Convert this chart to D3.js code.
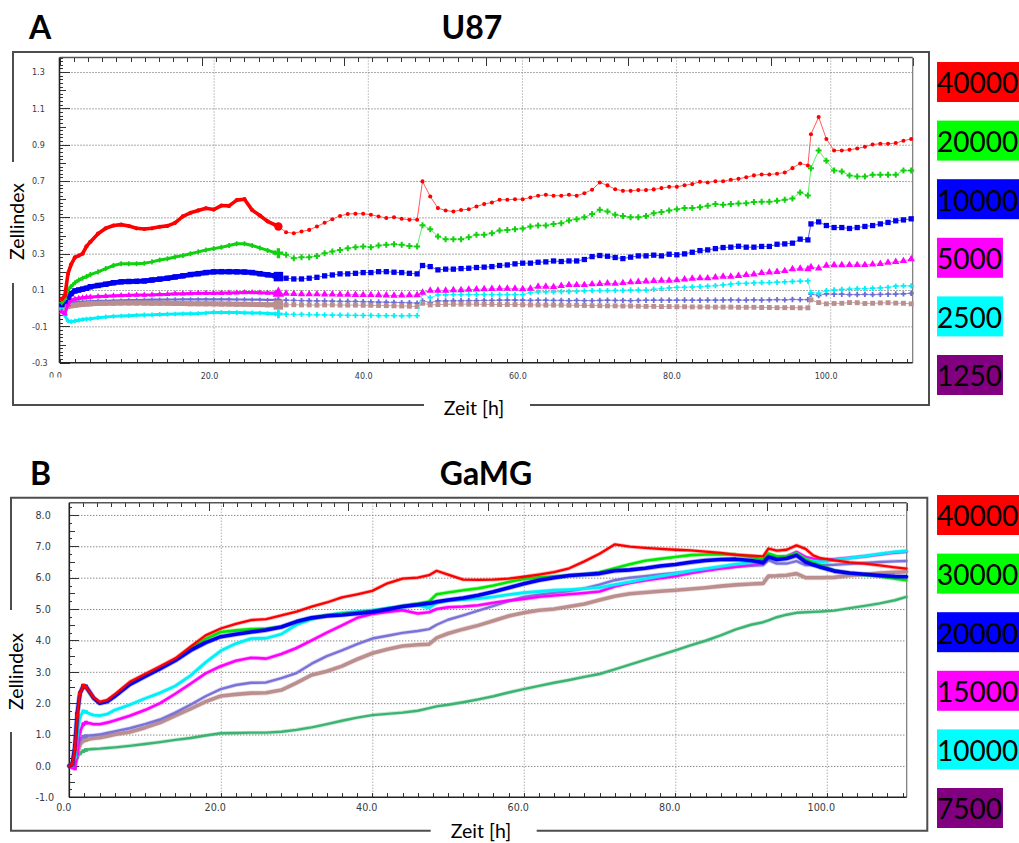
<!DOCTYPE html>
<html>
<head>
<meta charset="utf-8">
<script src="https://cdn.jsdelivr.net/npm/d3@7"></script>
<style>
  html, body { margin: 0; padding: 0; background: #fff; }
  svg { display: block; }
</style>
</head>
<body>
<svg id="fig" width="1019" height="843"></svg>
<script>
// ---------------- U87 (panel A) ----------------
// Sampling times [h]: dense recording until 28.4 h, hourly afterwards
const u87Time = [
  0.3, 0.7, 1.1, 1.5, 2, 2.5, 3, 3.5, 4, 5, 6, 7, 8, 9, 10, 11, 12, 13, 14, 15, 16, 17, 18, 19, 20, 21, 22, 23, 24, 25, 26, 27, 28,
  28.4, 29.4, 30.4, 31.4, 32.4, 33.4, 34.4, 35.4, 36.4, 37.4, 38.4, 39.4, 40.4, 41.4, 42.4, 43.4, 44.4, 45.4, 46.4,
  47.1, 48.1, 49.1, 50.1, 51.1, 52.1, 53.1, 54.1, 55.1, 56.1, 57.1, 58.1, 59.1, 60.1, 61.1, 62.1, 63.1, 64.1, 65.1, 66.1,
  67.1, 68.1, 69.1, 70.1, 71.1, 72.1, 73.1, 74.1, 75.1, 76.1, 77.1, 78.1, 79.1, 80.1, 81.1, 82.1, 83.1, 84.1, 85.1, 86.1,
  87.1, 88.1, 89.1, 90.1, 91.1, 92.1, 93.1, 94.1, 95.1, 96.1, 97.1,
  97.5, 98.5, 99.5, 100.5, 101.5, 102.5, 103.5, 104.5, 105.5, 106.5, 107.5, 108.5, 109.5, 110.5
];
const u87DenseEnd = 28.4;

const u87_40000 = [
  0.05, 0.07, 0.19, 0.24, 0.28, 0.29, 0.30, 0.34, 0.365, 0.41, 0.44, 0.455, 0.46, 0.452, 0.44, 0.436, 0.44, 0.448, 0.453, 0.47,
  0.505, 0.525, 0.538, 0.55, 0.543, 0.565, 0.563, 0.595, 0.60, 0.54, 0.51, 0.478, 0.458,
  0.45, 0.418, 0.413, 0.422, 0.431, 0.45, 0.47, 0.49, 0.508, 0.519, 0.52, 0.52, 0.514, 0.505, 0.497, 0.501, 0.492, 0.487, 0.487,
  0.698, 0.615, 0.551, 0.538, 0.532, 0.541, 0.545, 0.56, 0.573, 0.582,
  0.597, 0.597, 0.6, 0.6, 0.609, 0.619, 0.624, 0.619, 0.619, 0.624,
  0.619, 0.633, 0.652, 0.692, 0.676, 0.655, 0.646, 0.646, 0.65, 0.65,
  0.654, 0.661, 0.668, 0.668, 0.677, 0.683, 0.696, 0.692, 0.699, 0.699,
  0.707, 0.712, 0.721, 0.731, 0.736, 0.736, 0.74, 0.747, 0.771, 0.797, 0.786,
  0.958, 1.052, 0.931, 0.868, 0.868, 0.872, 0.879, 0.889, 0.901, 0.905, 0.905, 0.909, 0.922, 0.931
];
const u87_20000 = [
  0.03, 0.05, 0.10, 0.12, 0.14, 0.155, 0.165, 0.174, 0.185, 0.20, 0.218, 0.235, 0.245, 0.245, 0.245, 0.248, 0.255, 0.265, 0.272, 0.282,
  0.29, 0.30, 0.31, 0.32, 0.328, 0.335, 0.345, 0.355, 0.355, 0.345, 0.332, 0.318, 0.305,
  0.303, 0.294, 0.275, 0.28, 0.28, 0.288, 0.303, 0.312, 0.321, 0.33, 0.336, 0.34, 0.336, 0.345, 0.349, 0.352, 0.349, 0.343, 0.34,
  0.457, 0.435, 0.395, 0.38, 0.38, 0.38, 0.391, 0.404, 0.404, 0.413,
  0.428, 0.431, 0.435, 0.439, 0.45, 0.455, 0.455, 0.464, 0.468, 0.483,
  0.49, 0.501, 0.518, 0.542, 0.532, 0.514, 0.508, 0.501, 0.501, 0.508,
  0.523, 0.53, 0.538, 0.545, 0.551, 0.551, 0.556, 0.564, 0.573, 0.569,
  0.573, 0.576, 0.578, 0.584, 0.586, 0.586, 0.591, 0.597, 0.604, 0.637, 0.62,
  0.771, 0.868, 0.811, 0.758, 0.753, 0.731, 0.725, 0.725, 0.734, 0.734, 0.734, 0.734, 0.758, 0.758
];
const u87_10000 = [
  0.02, 0.04, 0.06, 0.08, 0.095, 0.10, 0.105, 0.11, 0.118, 0.125, 0.132, 0.14, 0.145, 0.147, 0.148, 0.15, 0.155, 0.16, 0.165, 0.172,
  0.178, 0.185, 0.19, 0.196, 0.20, 0.201, 0.201, 0.20, 0.199, 0.196, 0.19, 0.184, 0.178,
  0.174, 0.165, 0.161, 0.161, 0.165, 0.17, 0.178, 0.183, 0.189, 0.189, 0.192, 0.196, 0.196, 0.201, 0.201, 0.198, 0.196, 0.192, 0.189,
  0.235, 0.229, 0.211, 0.215, 0.215, 0.218, 0.22, 0.224, 0.226, 0.229,
  0.235, 0.238, 0.244, 0.248, 0.248, 0.253, 0.255, 0.26, 0.257, 0.26,
  0.26, 0.268, 0.284, 0.29, 0.286, 0.279, 0.273, 0.281, 0.288, 0.288,
  0.292, 0.288, 0.297, 0.294, 0.299, 0.308, 0.317, 0.321, 0.328, 0.334,
  0.336, 0.341, 0.336, 0.336, 0.34, 0.34, 0.352, 0.354, 0.358, 0.38, 0.376,
  0.464, 0.475, 0.455, 0.444, 0.444, 0.439, 0.444, 0.45, 0.455, 0.464, 0.472, 0.481, 0.486, 0.492
];
const u87_5000 = [
  -0.02, -0.03, 0.02, 0.045, 0.05, 0.055, 0.058, 0.06, 0.062, 0.064, 0.066, 0.068, 0.07, 0.071, 0.072, 0.073, 0.074, 0.076, 0.077, 0.079,
  0.08, 0.081, 0.082, 0.082, 0.082, 0.083, 0.084, 0.085, 0.086, 0.086, 0.085, 0.084, 0.083,
  0.082, 0.08, 0.079, 0.078, 0.077, 0.077, 0.076, 0.076, 0.075, 0.075, 0.074, 0.073, 0.073, 0.072, 0.071, 0.07, 0.071, 0.072, 0.072,
  0.086, 0.097, 0.097, 0.097, 0.1, 0.1, 0.102, 0.104, 0.105, 0.107,
  0.108, 0.108, 0.108, 0.105, 0.108, 0.119, 0.119, 0.117, 0.123, 0.128,
  0.128, 0.128, 0.132, 0.134, 0.137, 0.135, 0.139, 0.143, 0.145, 0.148,
  0.15, 0.152, 0.152, 0.154, 0.159, 0.163, 0.165, 0.165, 0.17, 0.174,
  0.174, 0.178, 0.183, 0.187, 0.194, 0.198, 0.2, 0.205, 0.215, 0.218, 0.215,
  0.226, 0.22, 0.235, 0.237, 0.237, 0.238, 0.238, 0.238, 0.242, 0.244, 0.251, 0.255, 0.26, 0.27
];
const u87_2500 = [
  0.0, -0.04, -0.07, -0.074, -0.07, -0.066, -0.062, -0.06, -0.058, -0.052, -0.048, -0.045, -0.043, -0.041, -0.039, -0.037, -0.036, -0.034, -0.033, -0.032,
  -0.031, -0.03, -0.029, -0.027, -0.023, -0.023, -0.024, -0.024, -0.025, -0.026, -0.027, -0.029, -0.031,
  -0.032, -0.033, -0.034, -0.034, -0.035, -0.036, -0.037, -0.038, -0.038, -0.039, -0.04, -0.04, -0.04, -0.041, -0.041, -0.041, -0.042, -0.041, -0.041,
  0.082, 0.058, 0.073, 0.073, 0.075, 0.075, 0.075, 0.075, 0.075, 0.075,
  0.075, 0.075, 0.075, 0.075, 0.086, 0.09, 0.09, 0.09, 0.092, 0.092,
  0.093, 0.095, 0.097, 0.097, 0.097, 0.098, 0.098, 0.1, 0.1, 0.1,
  0.104, 0.108, 0.112, 0.115, 0.115, 0.117, 0.119, 0.121, 0.124, 0.128,
  0.132, 0.137, 0.137, 0.139, 0.141, 0.141, 0.143, 0.145, 0.147, 0.149, 0.15,
  0.086, 0.082, 0.097, 0.1, 0.103, 0.105, 0.107, 0.108, 0.11, 0.112, 0.115, 0.121, 0.123, 0.123
];
const u87_1250a = [
  0.0, 0.01, 0.025, 0.03, 0.033, 0.035, 0.036, 0.037, 0.038, 0.04, 0.041, 0.042, 0.043, 0.044, 0.045, 0.046, 0.047, 0.047, 0.048, 0.048,
  0.049, 0.049, 0.049, 0.049, 0.049, 0.049, 0.049, 0.048, 0.048, 0.047, 0.047, 0.046, 0.046,
  0.046, 0.044, 0.043, 0.042, 0.041, 0.04, 0.04, 0.039, 0.038, 0.038, 0.037, 0.036, 0.035, 0.034, 0.033, 0.032, 0.031, 0.03, 0.028,
  0.04, 0.031, 0.04, 0.04, 0.041, 0.041, 0.042, 0.042, 0.043, 0.043,
  0.044, 0.045, 0.045, 0.044, 0.043, 0.044, 0.044, 0.043, 0.043, 0.042,
  0.043, 0.042, 0.042, 0.043, 0.044, 0.043, 0.043, 0.042, 0.043, 0.044,
  0.044, 0.044, 0.044, 0.044, 0.045, 0.044, 0.044, 0.045, 0.044, 0.045,
  0.046, 0.044, 0.045, 0.046, 0.045, 0.046, 0.047, 0.046, 0.048, 0.047, 0.047,
  0.077, 0.07, 0.079, 0.077, 0.077, 0.075, 0.075, 0.076, 0.075, 0.076, 0.077, 0.078, 0.079, 0.082
];
const u87_1250b = [
  0.0, 0.005, 0.01, 0.013, 0.016, 0.019, 0.021, 0.023, 0.024, 0.026, 0.027, 0.027, 0.028, 0.028, 0.028, 0.028, 0.027, 0.027, 0.027, 0.026,
  0.026, 0.025, 0.025, 0.024, 0.024, 0.023, 0.023, 0.022, 0.022, 0.021, 0.02, 0.019, 0.019,
  0.018, 0.018, 0.019, 0.018, 0.018, 0.017, 0.018, 0.018, 0.017, 0.017, 0.017, 0.016, 0.016, 0.015, 0.014, 0.013, 0.012, 0.011, 0.009,
  0.027, 0.018, 0.02, 0.021, 0.022, 0.022, 0.022, 0.022, 0.021, 0.021,
  0.02, 0.02, 0.02, 0.019, 0.018, 0.018, 0.017, 0.017, 0.017, 0.016,
  0.016, 0.015, 0.014, 0.014, 0.013, 0.013, 0.012, 0.012, 0.011, 0.01,
  0.01, 0.009, 0.009, 0.008, 0.008, 0.007, 0.007, 0.007, 0.006, 0.006,
  0.006, 0.005, 0.005, 0.005, 0.004, 0.004, 0.003, 0.003, 0.003, 0.002, 0.002,
  0.046, 0.031, 0.024, 0.026, 0.027, 0.031, 0.03, 0.026, 0.027, 0.029, 0.03, 0.028, 0.027, 0.024
];

const u87YTicks = [-0.3, -0.1, 0.1, 0.3, 0.5, 0.7, 0.9, 1.1, 1.3];
const u87XTicks = [0, 20, 40, 60, 80, 100];
const u87Legend = ["40000", "20000", "10000", "5000", "2500", "1250"];

// ---------------- GaMG (panel B) ----------------
const gamgTime = [
  0, 0.4, 0.75, 1.05, 1.4, 1.85, 2.2, 2.7, 3.2, 4,
  5, 6, 8, 10, 12, 14, 16, 18, 20, 22,
  24, 26, 28, 30, 32, 34, 36, 38, 40, 42,
  44, 46, 47.5, 48.5, 50, 52, 54, 56, 58, 60,
  62, 64, 66, 68, 70, 72, 74, 76, 78, 80,
  82, 84, 86, 88, 90, 91.6, 92.3, 93.4, 94.7, 96,
  97.2, 98.2, 99.2, 101, 103, 105, 107, 109, 110.5
];
const gamg_40000 = [
  0, 0.05, 0.55, 1.6, 2.3, 2.56, 2.52, 2.35, 2.18, 2.04,
  2.1, 2.28, 2.68, 2.93, 3.18, 3.43, 3.8, 4.16, 4.38, 4.53,
  4.65, 4.68, 4.8, 4.92, 5.08, 5.21, 5.37, 5.47, 5.58, 5.82,
  5.97, 6.0, 6.08, 6.22, 6.1, 5.94, 5.93, 5.94, 5.97, 6.03,
  6.1, 6.18, 6.3, 6.52, 6.76, 7.06, 6.99, 6.95, 6.92, 6.89,
  6.87, 6.83, 6.79, 6.73, 6.7, 6.68, 6.93, 6.86, 6.89, 7.03,
  6.92, 6.71, 6.62, 6.55, 6.49, 6.45, 6.39, 6.33, 6.29
];
const gamg_30000 = [
  0, 0.05, 0.55, 1.6, 2.3, 2.54, 2.5, 2.33, 2.15, 2.0,
  2.06, 2.24, 2.63, 2.88, 3.13, 3.38, 3.74, 4.05, 4.27, 4.32,
  4.36, 4.38, 4.43, 4.6, 4.72, 4.8, 4.84, 4.88, 4.93, 5.0,
  5.1, 5.17, 5.24, 5.47, 5.53, 5.6, 5.66, 5.75, 5.86, 5.96,
  6.01, 6.04, 6.06, 6.1, 6.17, 6.3, 6.43, 6.54, 6.6, 6.66,
  6.72, 6.74, 6.75, 6.74, 6.67, 6.58, 6.77, 6.68, 6.68, 6.77,
  6.58, 6.48, 6.39, 6.23, 6.14, 6.09, 6.04, 5.97, 5.92
];
const gamg_20000 = [
  0, 0.05, 0.64, 1.66, 2.31, 2.55, 2.53, 2.35, 2.17, 2.0,
  2.05, 2.22, 2.6, 2.85, 3.1, 3.36, 3.68, 3.93, 4.12, 4.2,
  4.27, 4.33, 4.43, 4.6, 4.72, 4.78, 4.81, 4.86, 4.91, 4.99,
  5.08, 5.14, 5.18, 5.23, 5.29, 5.35, 5.44, 5.55, 5.68, 5.81,
  5.92, 6.0, 6.07, 6.1, 6.13, 6.22, 6.25, 6.3, 6.37, 6.42,
  6.49, 6.55, 6.58, 6.59, 6.55, 6.48, 6.66, 6.58, 6.61, 6.71,
  6.5, 6.41, 6.33, 6.21, 6.15, 6.11, 6.07, 6.04, 6.03
];
const gamg_15000 = [
  0, -0.05, -0.08, 0.4, 1.1, 1.33, 1.38, 1.36, 1.33, 1.33,
  1.38, 1.45, 1.6, 1.78, 2.0, 2.3, 2.62, 2.95, 3.18, 3.35,
  3.45, 3.42, 3.57, 3.76, 4.0, 4.25, 4.48, 4.72, 4.84, 4.91,
  4.96, 4.86, 4.9, 5.0, 5.06, 5.08, 5.12, 5.2, 5.27, 5.32,
  5.39, 5.43, 5.47, 5.51, 5.56, 5.72, 5.83, 5.91, 5.98, 6.05,
  6.14, 6.22, 6.29, 6.35, 6.42, 6.47, 6.71, 6.64, 6.68, 6.82,
  6.66, 6.6, 6.56, 6.59, 6.63, 6.68, 6.74, 6.8, 6.83
];
const gamg_10000 = [
  0, 0.02, 0.3, 1.0, 1.57, 1.74, 1.72, 1.66, 1.62, 1.6,
  1.65, 1.78, 1.95, 2.15, 2.33, 2.55, 2.88, 3.3, 3.67, 3.9,
  4.06, 4.07, 4.2, 4.5, 4.68, 4.8, 4.88, 4.92, 4.96, 5.03,
  5.07, 5.12, 5.04, 5.2, 5.27, 5.3, 5.33, 5.39, 5.46, 5.52,
  5.56, 5.6, 5.62, 5.65, 5.68, 5.78, 5.87, 5.96, 6.05, 6.13,
  6.22, 6.29, 6.36, 6.43, 6.48, 6.5, 6.68, 6.58, 6.63, 6.77,
  6.58, 6.53, 6.5, 6.56, 6.62, 6.69, 6.76, 6.82, 6.85
];
const gamg_7500a = [
  0, 0.02, 0.2, 0.55, 0.85, 0.93, 0.95, 0.97, 0.98, 1.0,
  1.05, 1.1, 1.2, 1.33, 1.48, 1.7, 1.95, 2.22, 2.45, 2.58,
  2.65, 2.66, 2.8, 2.96, 3.26, 3.5, 3.68, 3.88, 4.06, 4.15,
  4.24, 4.3, 4.36, 4.5, 4.66, 4.8, 4.95, 5.1, 5.25, 5.39,
  5.46, 5.52, 5.57, 5.66, 5.78, 5.92, 6.0, 6.05, 6.1, 6.15,
  6.2, 6.26, 6.31, 6.35, 6.38, 6.4, 6.56, 6.45, 6.45, 6.53,
  6.4, 6.4, 6.4, 6.41, 6.44, 6.47, 6.5, 6.52, 6.53
];
const gamg_7500b = [
  0, 0.0, 0.1, 0.35, 0.68, 0.8, 0.83, 0.86, 0.88, 0.9,
  0.95, 1.0, 1.08, 1.22, 1.38, 1.6, 1.82, 2.05, 2.23, 2.28,
  2.32, 2.33, 2.42, 2.65, 2.9, 3.02, 3.18, 3.4, 3.59, 3.72,
  3.82, 3.86, 3.88, 4.08, 4.22, 4.36, 4.48, 4.63, 4.78, 4.88,
  4.96, 5.0, 5.08, 5.16, 5.29, 5.41, 5.49, 5.53, 5.57, 5.6,
  5.64, 5.68, 5.73, 5.77, 5.8, 5.82, 6.05, 6.06, 6.08, 6.13,
  6.0, 6.0, 6.0, 6.01, 6.07, 6.1, 6.15, 6.17, 6.19
];
const gamg_7500c = [
  0, 0.0, 0.1, 0.28, 0.4, 0.47, 0.51, 0.53, 0.54, 0.55,
  0.57, 0.59, 0.64, 0.7, 0.76, 0.83, 0.89, 0.97, 1.04, 1.05,
  1.06, 1.06, 1.09, 1.15, 1.23, 1.33, 1.44, 1.54, 1.62, 1.66,
  1.7, 1.76, 1.84, 1.9, 1.95, 2.03, 2.12, 2.22, 2.34, 2.45,
  2.55, 2.65, 2.74, 2.84, 2.93, 3.08, 3.23, 3.38, 3.53, 3.68,
  3.84, 3.99, 4.16, 4.35, 4.5, 4.58, 4.64, 4.74, 4.82, 4.88,
  4.9, 4.91, 4.92, 4.95, 5.03, 5.1, 5.18, 5.28, 5.39
];

const gamgYTicks = [-1, 0, 1, 2, 3, 4, 5, 6, 7, 8];
const gamgXTicks = [0, 20, 40, 60, 80, 100];
const gamgLegend = ["40000", "30000", "20000", "15000", "10000", "7500"];

// ---------------- drawing ----------------
const svg = d3.select("#fig");
const fmt = d => d.toFixed(1);   // plain hyphen for negatives
const LEGEND_COLORS = ["#ff0000", "#00ff00", "#0000ff", "#ff00ff", "#00ffff", "#800080"];

// clip for the half-hidden "0.0" label of the upper time axis (label-local coordinates)
const clip = svg.append("defs").append("clipPath").attr("id", "zeroCut");
clip.append("rect").attr("x", -60).attr("y", -40).attr("width", 120).attr("height", 54.8);

function drawFrame(p) {
  const f = p.frame;
  svg.append("path")
    .attr("d", `M${f.x0},${f.gapY0}V${f.y0}H${f.x1}V${f.y1}H${f.gapX1}M${f.gapX0},${f.y1}H${f.x0}V${f.gapY1}`)
    .attr("fill", "none").attr("stroke", "#4d4d4d").attr("stroke-width", 2);
}

function drawAxes(p, x, y) {
  const g = svg.append("g");
  const w = p.right - p.left, h = p.bottom - p.top;

  // dotted grid
  g.append("g").attr("transform", `translate(${p.left},0)`)
    .call(d3.axisRight(y).tickValues(p.yTicks.filter(v => v > p.yDomain[0])).tickSize(w).tickFormat(""))
    .call(s => s.select(".domain").remove())
    .call(s => s.selectAll("line").attr("stroke", "#555").attr("stroke-dasharray", "1,2"));
  g.append("g").attr("transform", `translate(0,${p.top})`)
    .call(d3.axisBottom(x).tickValues(p.xTicks.filter(v => v > 0)).tickSize(h).tickFormat(""))
    .call(s => s.select(".domain").remove())
    .call(s => s.selectAll("line").attr("stroke", "#8a8a8a").attr("stroke-dasharray", "1,2"));

  // left axis: minor, medium and major ticks pointing inward
  const minor = d3.range(p.yDomain[0], p.yDomain[1] + 1e-9, p.yMinor).map(v => +v.toFixed(4));
  const medium = d3.range(p.yTicks[0] + p.yMedium, p.yDomain[1], 2 * p.yMedium).map(v => +v.toFixed(4));
  [[minor, 3], [medium, 6], [p.yTicks, 10]].forEach(([vals, len]) => {
    g.append("g").attr("transform", `translate(${p.left},0)`)
      .call(d3.axisRight(y).tickValues(vals).tickSize(len).tickFormat(""))
      .call(s => s.select(".domain").remove())
      .call(s => s.selectAll("line").attr("stroke", "#333").attr("shape-rendering", "crispEdges"));
  });

  // top auxiliary scale ticks
  const xTop = d3.scaleLinear().domain([0, 6]).range([p.left, p.right]);
  g.append("g").attr("transform", `translate(0,${p.top})`)
    .call(d3.axisBottom(xTop).tickValues(d3.range(0, 60.5, 1).map(v => v / 10)).tickSize(4).tickFormat(""))
    .call(s => s.select(".domain").remove())
    .call(s => s.selectAll("line").attr("stroke", "#333").attr("shape-rendering", "crispEdges"));
  g.append("g").attr("transform", `translate(0,${p.top})`)
    .call(d3.axisBottom(xTop).tickValues(d3.range(0, 7)).tickSize(8).tickFormat(""))
    .call(s => s.select(".domain").remove())
    .call(s => s.selectAll("line").attr("stroke", "#333").attr("shape-rendering", "crispEdges"));

  // bottom ticks every 2 h pointing inward
  g.append("g").attr("transform", `translate(0,${p.bottom})`)
    .call(d3.axisTop(x).tickValues(d3.range(0, p.xDomain[1], 2)).tickSize(4).tickFormat(""))
    .call(s => s.select(".domain").remove())
    .call(s => s.selectAll("line").attr("stroke", "#333").attr("shape-rendering", "crispEdges"));

  // axis lines
  g.append("line").attr("x1", p.left).attr("x2", p.right).attr("y1", p.top).attr("y2", p.top)
    .attr("stroke", "#555").attr("stroke-width", 1.5);
  g.append("line").attr("x1", p.right).attr("x2", p.right).attr("y1", p.top).attr("y2", p.bottom)
    .attr("stroke", "#777").attr("stroke-width", 1.2);
  g.append("line").attr("x1", p.left).attr("x2", p.left).attr("y1", p.top).attr("y2", p.bottom)
    .attr("stroke", "#222").attr("stroke-width", 1.6);
  g.append("line").attr("x1", p.left).attr("x2", p.right).attr("y1", p.bottom).attr("y2", p.bottom)
    .attr("stroke", "#222").attr("stroke-width", 1.6);

  // tick labels
  const yl = g.append("g").attr("transform", `translate(${p.left},0)`)
    .call(d3.axisLeft(y).tickValues(p.yTicks).tickSize(0).tickFormat(fmt))
    .call(s => s.select(".domain").remove());
  yl.selectAll("text").attr("text-anchor", "start").attr("x", p.yLabelX - p.left).attr("dy", "0.34em")
    .attr("fill", "#343a46").style("font-family", "DejaVu Sans, Verdana, sans-serif").style("font-size", p.tickFont + "px");

  const xl = g.append("g").attr("transform", `translate(0,${p.bottom})`)
    .call(d3.axisBottom(x).tickValues(p.xTicks).tickSize(0).tickFormat(fmt))
    .call(s => s.select(".domain").remove());
  xl.selectAll("text").attr("y", p.xLabelBase - p.bottom).attr("dy", 0).attr("dx", p.xLabelDx)
    .attr("fill", "#343a46").style("font-family", "DejaVu Sans, Verdana, sans-serif").style("font-size", p.tickFont + "px");
  if (p.cutZero) xl.selectAll("text").filter(d => d === 0).attr("clip-path", "url(#zeroCut)");
}

function drawTexts(p) {
  svg.append("text").attr("x", p.letterX).attr("y", p.titleBase).text(p.letter)
    .style("font-family", "Lato, sans-serif").style("font-weight", 700).style("font-size", "32px");
  svg.append("text").attr("x", p.titleX).attr("y", p.titleBase).attr("text-anchor", "middle").text(p.title)
    .style("font-family", "Lato, sans-serif").style("font-weight", 700).style("font-size", "32px");
  svg.append("text").attr("transform", `translate(${p.yTitleX},${p.yTitleY}) rotate(-90)`)
    .attr("text-anchor", "middle").text("Zellindex")
    .style("font-family", "Lato, sans-serif").style("font-size", "19.5px");
  svg.append("text").attr("x", p.xTitleX).attr("y", p.xTitleBase).attr("text-anchor", "middle").text("Zeit [h]")
    .style("font-family", "Lato, sans-serif").style("font-size", "19.5px");
}

function drawLegend(labels, top) {
  labels.forEach((lab, i) => {
    const y0 = top + i * 58.6;
    const r = svg.append("rect").attr("x", 937).attr("y", y0).attr("height", 40).attr("fill", LEGEND_COLORS[i]);
    const t = svg.append("text").attr("x", 937).attr("y", y0 + 31.3).text(lab)
      .style("font-family", "Lato, sans-serif").style("font-size", "28px").attr("fill", "#000");
    r.attr("width", t.node().getComputedTextLength() + 1);
  });
}

// ---------- panel A ----------
const pA = {
  left: 59.5, right: 912.7, top: 57.5, bottom: 362.7,
  xDomain: [0, 110.7], yDomain: [-0.3, 1.38],
  yTicks: u87YTicks, xTicks: u87XTicks, yMinor: 0.02, yMedium: 0.1,
  yLabelX: 32, xLabelBase: 379.5, xLabelDx: -4.6, tickFont: 8, cutZero: true,
  frame: { x0: 13, y0: 52, x1: 929, y1: 405, gapY0: 162, gapY1: 283, gapX0: 424, gapX1: 530 },
  letter: "A", letterX: 29, title: "U87", titleX: 472, titleBase: 39,
  yTitleX: 24, yTitleY: 221.5, xTitleX: 474, xTitleBase: 415
};
const xA = d3.scaleLinear().domain(pA.xDomain).range([pA.left, pA.right]);
const yA = d3.scaleLinear().domain(pA.yDomain).range([pA.bottom, pA.top]);
drawFrame(pA);
drawAxes(pA, xA, yA);
drawTexts(pA);
drawLegend(u87Legend, 62);

const u87Series = [
  { values: u87_1250a, color: "#6c6cd6", line: "#8c8ce0", symbol: d3.symbolCross, size: 16, band: 2.2, denseSize: 10, big: 24 },
  { values: u87_1250b, color: "#bb8f8f", line: "#c9a3a3", symbol: d3.symbolSquare, size: 24, band: 5, denseSize: 26, big: 90 },
  { values: u87_2500,  color: "#00f0f8", line: "#60f4fa", symbol: d3.symbolCross, size: 16, band: 3, denseSize: 12, big: 40 },
  { values: u87_5000,  color: "#ff00ff", line: "#ff70ff", symbol: d3.symbolTriangle, size: 24, band: 3, denseSize: 16, big: 60 },
  { values: u87_10000, color: "#0000f0", line: "#5a5af5", symbol: d3.symbolSquare, size: 28, band: 5, denseSize: 30, big: 90 },
  { values: u87_20000, color: "#10d010", line: "#5ef05e", symbol: d3.symbolCross, size: 20, band: 3, denseSize: 14, big: 55 },
  { values: u87_40000, color: "#ff0000", line: "#ff5a5a", symbol: d3.symbolCircle, size: 13, band: 3.6, denseSize: 14, big: 55 }
];

const gA = svg.append("g");
const lineA = d3.line().x(d => xA(d.t)).y(d => yA(d.v));
u87Series.forEach(s => {
  const pts = u87Time.map((t, i) => ({ t, v: s.values[i] }));
  const dense = pts.filter(d => d.t <= u87DenseEnd);
  const sparse = pts.filter(d => d.t >= u87DenseEnd);
  const g = gA.append("g");
  g.append("path").attr("d", lineA(sparse)).attr("fill", "none").attr("stroke", s.line).attr("stroke-width", 1);
  g.selectAll(null).data(sparse.slice(1)).join("path")
    .attr("transform", d => `translate(${xA(d.t)},${yA(d.v)})`)
    .attr("d", d3.symbol(s.symbol, s.size)()).attr("fill", s.color);
  g.append("path").attr("d", lineA(dense)).attr("fill", "none").attr("stroke", s.color)
    .attr("stroke-width", s.band).attr("stroke-linejoin", "round").attr("stroke-linecap", "round");
  g.selectAll(null).data(dense).join("path")
    .attr("transform", d => `translate(${xA(d.t)},${yA(d.v)})`)
    .attr("d", d3.symbol(s.symbol, s.denseSize)()).attr("fill", s.color);
  const last = dense[dense.length - 1];
  g.append("path").attr("transform", `translate(${xA(last.t)},${yA(last.v)})`)
    .attr("d", d3.symbol(s.symbol, s.big)()).attr("fill", s.color);
});

// ---------- panel B ----------
const pB = {
  left: 69.3, right: 906.7, top: 502.7, bottom: 797.3,
  xDomain: [0, 110.55], yDomain: [-1, 8.39],
  yTicks: gamgYTicks, xTicks: gamgXTicks, yMinor: 0.25, yMedium: 0.5,
  yLabelX: 35.5, xLabelBase: 811.5, xLabelDx: -6, tickFont: 9.6, cutZero: false,
  frame: { x0: 11, y0: 497.7, x1: 927.3, y1: 830.7, gapY0: 610, gapY1: 732, gapX0: 430.7, gapX1: 536.7 },
  letter: "B", letterX: 30, title: "GaMG", titleX: 486, titleBase: 485,
  yTitleX: 22.7, yTitleY: 671.5, xTitleX: 481, xTitleBase: 837.5
};
const xB = d3.scaleLinear().domain(pB.xDomain).range([pB.left, pB.right]);
const yB = d3.scaleLinear().domain(pB.yDomain).range([pB.bottom, pB.top]);
drawFrame(pB);
drawAxes(pB, xB, yB);
drawTexts(pB);
drawLegend(gamgLegend, 495);

const gamgSeries = [
  { values: gamg_7500c, color: "#3cb371", width: 2.4 },
  { values: gamg_7500b, color: "#bc8f8f", width: 3.6 },
  { values: gamg_7500a, color: "#7b72d8", width: 2.4 },
  { values: gamg_15000, color: "#ff00ff", width: 2.6 },
  { values: gamg_10000, color: "#00f0f8", width: 2.8 },
  { values: gamg_30000, color: "#00e800", width: 2.6 },
  { values: gamg_20000, color: "#0000f0", width: 3.6 },
  { values: gamg_40000, color: "#ff0000", width: 2.3 }
];
const gB = svg.append("g");
const lineB = d3.line().x(d => xB(d.t)).y(d => yB(d.v));
gamgSeries.forEach(s => {
  const pts = gamgTime.map((t, i) => ({ t, v: s.values[i] }));
  // soft halo from the densely packed sample markers
  gB.append("path").attr("d", lineB(pts)).attr("fill", "none").attr("stroke", s.color).attr("stroke-opacity", 0.3)
    .attr("stroke-width", s.width + 1.6).attr("stroke-linejoin", "round").attr("stroke-linecap", "round");
  gB.append("path").attr("d", lineB(pts)).attr("fill", "none").attr("stroke", s.color)
    .attr("stroke-width", s.width).attr("stroke-linejoin", "round").attr("stroke-linecap", "round");
  // early points keep their sample markers
  gB.selectAll(null).data(pts.slice(1, 7)).join("path")
    .attr("transform", d => `translate(${xB(d.t)},${yB(d.v)})`)
    .attr("d", d3.symbol(d3.symbolSquare, 14)()).attr("fill", s.color);
});
</script>
</body>
</html>
